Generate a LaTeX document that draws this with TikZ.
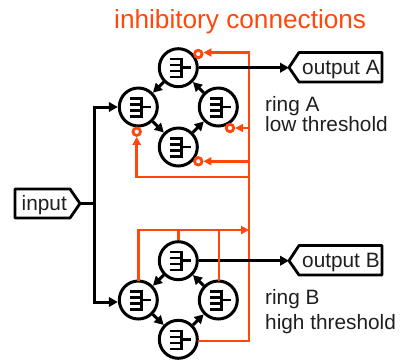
\documentclass[tikz,border=0pt]{standalone}
\usepackage{fontspec}
\setmainfont{Liberation Sans}
\usetikzlibrary{arrows.meta}
\definecolor{inh}{RGB}{255,72,10}
\newcommand{\neuron}[2]{%
  \node[cell] (#1) at (#2) {};
  \draw[comb] ([shift={(-8.5,-8.5)}]#1.center) -- ([shift={(3,-8.5)}]#1.center) -- ([shift={(3,9.5)}]#1.center) -- ([shift={(-8.5,9.5)}]#1.center);
  \draw[comb] ([shift={(-8.5,-2.5)}]#1.center) -- ([shift={(3,-2.5)}]#1.center);
  \draw[comb] ([shift={(-8.5,3.5)}]#1.center) -- ([shift={(3,3.5)}]#1.center);
  \draw[comb] ([shift={(3,0)}]#1.center) -- ([shift={(12.5,0)}]#1.center);
}
\tikzset{
  x=1pt,y=-1pt,
  cell/.style={circle,draw=black,line width=3pt,fill=white,minimum size=38pt,inner sep=0pt},
  comb/.style={black,line width=2.5pt},
  exc/.style={black,line width=3pt,-{Triangle[length=9pt,width=9.5pt]}},
  inhline/.style={inh,line width=2.5pt},
  inharrow/.style={inh,line width=2.5pt,-{Triangle[length=8pt,width=8pt]}},
  bub/.style={circle,draw=inh,line width=2.8pt,fill=white,minimum size=7.5pt,inner sep=0pt},
  lab/.style={font=\fontsize{20.8}{24}\selectfont,text=black!88,anchor=base west,inner sep=0pt},
  port/.style={draw=black,line width=2.8pt,fill=white,line join=round},
}
\begin{document}
\begin{tikzpicture}
\useasboundingbox (0,0) rectangle (401,360);
% orange trunk
\coordinate (tt) at (249,52.5);
\coordinate (tb) at (249,341);
\draw[inhline,line cap=rect] (tt) -- (tb);
% neurons ring A
\neuron{at}{178.3,67.7}
\neuron{al}{138.3,107}
\neuron{ar}{218.3,107}
\neuron{ab}{178.3,147}
% neurons ring B
\neuron{bt}{178.3,260.7}
\neuron{bl}{138.3,300}
\neuron{br}{218.3,300}
\neuron{bb}{178.3,339.3}
% ring arrows
\foreach \p/\q in {at/al,al/ab,ab/ar,ar/at,bt/bl,bl/bb,bb/br,br/bt}
  \draw[exc] (\p) -- (\q);
% input
\draw[port] (15,189) -- (70,189) -- (80,203.5) -- (70,218) -- (15,218) -- cycle;
\node[lab] (input) at (21.5,210) {input};
\coordinate (split) at (94,203.5);
\coordinate (inu) at (94,107);
\coordinate (ind) at (94,302);
\draw[line width=3pt,black] (80,203.5) -- (split);
\draw[exc] (split) -- (inu) -- (al);
\draw[exc] (split) -- (ind) -- (bl.west |- ind);
% outputs
\draw[port] (289,67.5) -- (299,52.5) -- (382,52.5) -- (382,82) -- (299,82) -- cycle;
\node[lab] (oa) at (302,74.5) {output A};
\draw[port] (289,260.7) -- (299,245.5) -- (382,245.5) -- (382,275) -- (299,275) -- cycle;
\node[lab] (ob) at (302,267) {output B};
\coordinate (oat) at (289,67.7);
\coordinate (obt) at (289,260.7);
\draw[exc] (at.east) -- (oat);
\draw[exc] (bt.east) -- (obt);
% inhibition ring A
\node[bub] (ba) at (198.3,54) {};
\node[bub] (bc) at (230,128) {};
\node[bub] (bd) at (198.3,161.3) {};
\node[bub] (be) at (136.7,131.7) {};
\draw[inharrow] (tt) -- (ba.east |- tt);
\draw[inharrow] (249,128) -- (bc);
\draw[inharrow] (249,161.3) -- (bd);
\draw[inharrow] (249,177) -- (136.7,177) -- (be);
% inhibition ring B
\coordinate (bj) at (249,230);
\draw[inharrow] (bl.north) ++(0,1) -- (138.3,230) -- (bj);
\draw[inhline] (bt.north) -- (178.3,230);
\draw[inhline] (219,281) -- (219,230);
\draw[inhline] (197.5,341) -- (tb);
% texts
\node[font=\fontsize{26.2}{30}\selectfont,text=inh,inner sep=0pt,anchor=base west] (title) at (114,28.5) {inhibitory connections};
\node[lab] (ra1) at (265,111.7) {ring A};
\node[lab] (ra2) at (265,131.7) {low threshold};
\node[lab] (rb1) at (265,304.3) {ring B};
\node[lab] (rb2) at (265,329.5) {high threshold};
\end{tikzpicture}
\end{document}
